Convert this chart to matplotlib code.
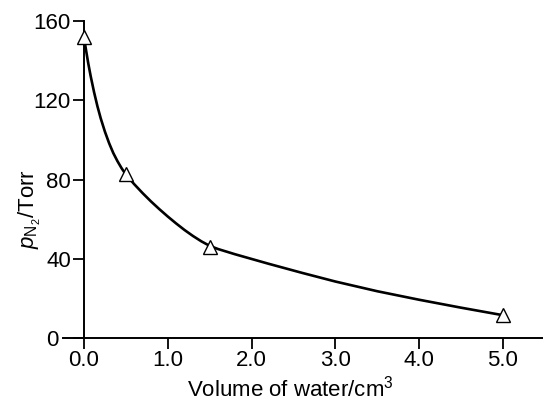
import matplotlib
matplotlib.use("Agg")
import matplotlib.pyplot as plt
from matplotlib.transforms import ScaledTranslation

# data points (triangles)
vol_pts = [0.0, 0.5, 1.5, 5.0]
p_pts = [152, 83, 46, 11.5]

# smooth curve
curve_x = [0.00, 0.02, 0.05, 0.08, 0.12, 0.16, 0.20, 0.25, 0.30, 0.35, 0.40,
           0.45, 0.50, 0.60, 0.70, 0.80, 0.90, 1.00, 1.10, 1.20, 1.30, 1.40,
           1.50, 1.60, 1.80, 2.00, 2.20, 2.60, 3.00, 3.50, 4.00, 4.50, 5.00]
curve_y = [152, 146.4, 138.8, 132.1, 124.1, 117.0, 110.8, 104.1, 98.3, 93.3,
           89.2, 85.6, 82.5, 77.6, 73.1, 68.9, 65.0, 61.3, 57.8, 54.5, 51.5,
           48.8, 46.5, 44.9, 42.3, 39.9, 37.5, 32.9, 28.5, 23.6, 19.3, 15.3,
           11.5]

xticks = [0, 1, 2, 3, 4, 5]
xticklabels = ["0.0", "1.0", "2.0", "3.0", "4.0", "5.0"]
yticks = [0, 40, 80, 120, 160]

plt.rcParams['font.family'] = ['Liberation Sans', 'DejaVu Sans']
plt.rcParams['mathtext.fontset'] = 'custom'
plt.rcParams['mathtext.rm'] = 'Liberation Sans'
plt.rcParams['mathtext.it'] = 'Liberation Sans:italic'

fig = plt.figure(figsize=(5.43, 4.01), dpi=100)
W, H = 543, 401
x0px = 84
x_unit = 83.8
xmin = -(x0px - 63) / x_unit
xmax = (543 - x0px) / x_unit
left = 63 / W
ax = fig.add_axes([left, 63 / H, 1 - left, (338 - 21) / H])

ax.plot(curve_x, curve_y, color='black', lw=1.9, solid_capstyle='round',
        solid_joinstyle='round', zorder=2)
ax.plot(vol_pts, p_pts, linestyle='none', marker='^', markersize=9.5,
        markerfacecolor='white', markeredgecolor='black', markeredgewidth=1.0,
        clip_on=False, zorder=3)

ax.set_xlim(xmin, xmax)
ax.set_ylim(0, 160)
ax.spines['top'].set_visible(False)
ax.spines['right'].set_visible(False)
ax.spines['left'].set_position(('data', 0))
for s in ('left', 'bottom'):
    ax.spines[s].set_linewidth(1.4)

ax.set_xticks(xticks)
ax.set_xticklabels(xticklabels)
ax.set_yticks(yticks)
ax.tick_params(axis='both', direction='out', length=8, width=1.3,
               labelsize=16, colors='black')
ax.tick_params(axis='x', pad=1.0)
ax.tick_params(axis='y', pad=1.5)

fig.canvas.draw()
# shift the "0" label left of the extended baseline
for lab in ax.get_yticklabels():
    if lab.get_text() == "0":
        lab.set_transform(lab.get_transform() +
                          ScaledTranslation(-9 / 72, 0, fig.dpi_scale_trans))

fig.text(290 / W, 1 - 397 / H, "Volume of water/cm$^3$", fontsize=16,
         ha='center', va='baseline')
fig.text(30 / W, 1 - 209 / H, r"$p_{\mathrm{N_2}}$/Torr", fontsize=16,
         rotation=90, ha='center', va='center')

fig.savefig("out.png", dpi=100)
